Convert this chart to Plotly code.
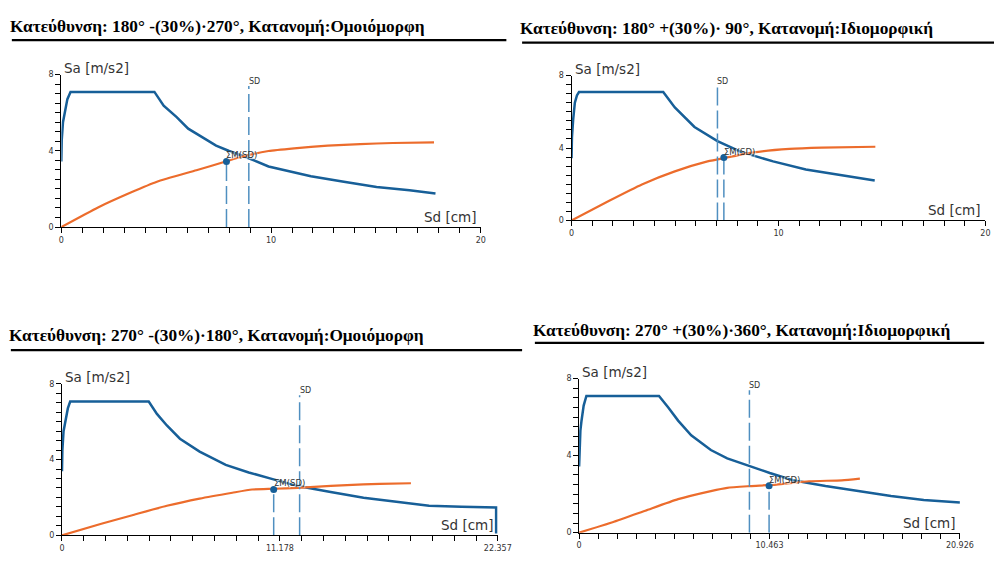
import plotly.graph_objects as go

# ---------------- data ----------------
titles = [
    "Κατεύθυνση: 180° -(30%)·270°, Κατανομή:Ομοιόμορφη",
    "Κατεύθυνση: 180° +(30%)· 90°, Κατανομή:Ιδιομορφική",
    "Κατεύθυνση: 270° -(30%)·180°, Κατανομή:Ομοιόμορφη",
    "Κατεύθυνση: 270° +(30%)·360°, Κατανομή:Ιδιομορφική",
]

# panel 1
p1_dem_sd = [0, 0.02, 0.08, 0.17, 0.29, 0.44, 4.44, 4.88, 5.5, 6.05, 6.75, 7.38, 8.0, 8.94, 9.88, 10.8, 11.9, 13.47, 15.03, 16.6, 17.84]
p1_dem_sa = [3.44, 4.56, 5.5, 6.02, 6.71, 7.09, 7.09, 6.37, 5.77, 5.16, 4.68, 4.27, 3.99, 3.61, 3.18, 2.93, 2.67, 2.38, 2.10, 1.93, 1.76]
p1_cap_sd = [0, 1.75, 3.31, 4.56, 6.44, 7.84, 8.63, 9.88, 11.1, 12.7, 14.25, 15.8, 17.77]
p1_cap_sa = [0, 1.03, 1.81, 2.38, 2.98, 3.44, 3.70, 3.99, 4.13, 4.27, 4.35, 4.41, 4.44]
p1_sd = 8.94
p1_pt = (7.875, 3.44)
p1_xticks = ["0", "10", "20"]

# panel 2
p2_dem_sd = [0, 0.02, 0.08, 0.16, 0.26, 0.36, 4.43, 4.99, 5.94, 7.05, 8.16, 9.74, 11.32, 12.9, 14.65]
p2_dem_sa = [3.44, 4.6, 5.6, 6.5, 6.9, 7.09, 7.09, 6.24, 5.16, 4.38, 3.80, 3.26, 2.81, 2.53, 2.21]
p2_cap_sd = [0, 1.82, 3.4, 4.99, 6.57, 7.52, 8.79, 10.53, 12.1, 14.68]
p2_cap_sa = [0, 1.09, 1.99, 2.71, 3.26, 3.48, 3.76, 3.95, 4.02, 4.07]
p2_sd = 7.05
p2_pt = (7.36, 3.47)
p2_xticks = ["0", "10", "20"]

# panel 3
p3_dem_sd = [0, 0.02, 0.08, 0.17, 0.3, 0.42, 4.45, 4.87, 5.38, 6.05, 7.06, 8.4, 9.58, 10.76, 12.1, 13.78, 15.47, 17.15, 18.83, 20.5, 22.27, 22.27]
p3_dem_sa = [3.38, 4.5, 5.5, 6.06, 6.7, 7.06, 7.06, 6.41, 5.8, 5.1, 4.42, 3.72, 3.32, 2.98, 2.6, 2.29, 1.99, 1.77, 1.56, 1.51, 1.47, 0.1]
p3_cap_sd = [0, 2.02, 3.7, 5.38, 7.06, 8.74, 9.75, 10.86, 12.1, 12.94, 14.62, 16.3, 17.9]
p3_cap_sa = [0, 0.61, 1.09, 1.56, 1.94, 2.25, 2.42, 2.46, 2.51, 2.56, 2.65, 2.72, 2.75]
p3_sd = 12.19
p3_pt = (10.86, 2.42)
p3_xticks = ["0", "11.178", "22.357"]

# panel 4
p4_dem_sd = [0, 0.02, 0.07, 0.13, 0.25, 0.4, 4.39, 4.9, 5.44, 6.16, 7.24, 8.14, 9.4, 10.48, 11.74, 13.54, 15.34, 17.14, 18.94, 20.93]
p4_dem_sa = [3.44, 4.6, 5.3, 5.8, 6.6, 7.1, 7.1, 6.5, 5.82, 5.06, 4.29, 3.86, 3.44, 3.10, 2.72, 2.42, 2.16, 1.91, 1.70, 1.57]
p4_cap_sd = [0, 1.84, 3.64, 5.44, 7.24, 8.14, 9.4, 10.84, 12.64, 14.44, 15.43]
p4_cap_sa = [0, 0.54, 1.14, 1.74, 2.16, 2.33, 2.42, 2.5, 2.67, 2.72, 2.81]
p4_sd = 9.36
p4_pt = (10.44, 2.44)
p4_xticks = ["0", "10.463", "20.926"]

y_max = 8
y_ticks = ["0", "4", "8"]
sd_line_top = 7.4

# ---------------- layout geometry (pixels) ----------------
W, H = 1008, 561
panels = [
    dict(dem=(p1_dem_sd, p1_dem_sa), cap=(p1_cap_sd, p1_cap_sa), sd=p1_sd, pt=p1_pt, xt=p1_xticks,
         px=(59.3, 486), py=(71.7, 226.7)),
    dict(dem=(p2_dem_sd, p2_dem_sa), cap=(p2_cap_sd, p2_cap_sa), sd=p2_sd, pt=p2_pt, xt=p2_xticks,
         px=(578.3, 999.3), py=(72.7, 220)),
    dict(dem=(p3_dem_sd, p3_dem_sa), cap=(p3_cap_sd, p3_cap_sa), sd=p3_sd, pt=p3_pt, xt=p3_xticks,
         px=(60, 503.3), py=(386, 540)),
    dict(dem=(p4_dem_sd, p4_dem_sa), cap=(p4_cap_sd, p4_cap_sa), sd=p4_sd, pt=p4_pt, xt=p4_xticks,
         px=(586, 973.3), py=(380.7, 537.3)),
]
title_pos = [(5, 22.5), (524, 24.5), (4, 336.5), (537, 332)]
rules = [(9, 512, 36.7), (528, 1008, 39.3), (8, 528, 351.7), (541, 998, 344.3)]

BLUE = "#175f98"
ORANGE = "#ec6c2c"
DASH = "#4f8fc0"
TXT = "#333333"
FONT = "DejaVu Sans"

def fy(p):
    return 1 - p / H

fig = go.Figure()
layout = dict(width=W, height=H, autosize=False, margin=dict(l=0, r=0, t=0, b=0),
              paper_bgcolor="white", plot_bgcolor="white", showlegend=False)
annotations = []
shapes = []

# y ticks every 0.5, labels at 0 / 4 / 8
y_tickvals = [k * 0.5 for k in range(17)]
y_ticktext = [(y_ticks[k // 8] if k % 8 == 0 else "") for k in range(17)]

for i, p in enumerate(panels):
    n = "" if i == 0 else str(i + 1)
    xr, yr = "x" + n, "y" + n
    xmax = float(p["xt"][-1])
    fig.add_trace(go.Scatter(x=p["dem"][0], y=p["dem"][1], mode="lines", xaxis=xr, yaxis=yr,
                             line=dict(color=BLUE, width=2.5), hoverinfo="skip"))
    fig.add_trace(go.Scatter(x=p["cap"][0], y=p["cap"][1], mode="lines", xaxis=xr, yaxis=yr,
                             line=dict(color=ORANGE, width=2.2, shape="spline", smoothing=0.5),
                             hoverinfo="skip"))
    fig.add_trace(go.Scatter(x=[p["sd"], p["sd"]], y=[0, sd_line_top], mode="lines", xaxis=xr, yaxis=yr,
                             line=dict(color=DASH, width=1.5, dash="18px,5px"), hoverinfo="skip"))
    fig.add_trace(go.Scatter(x=[p["pt"][0], p["pt"][0]], y=[0, p["pt"][1]], mode="lines", xaxis=xr, yaxis=yr,
                             line=dict(color=DASH, width=1.5, dash="18px,5px"), hoverinfo="skip"))
    fig.add_trace(go.Scatter(x=[p["pt"][0]], y=[p["pt"][1]], mode="markers", xaxis=xr, yaxis=yr,
                             marker=dict(color=BLUE, size=7), hoverinfo="skip"))

    # x ticks every 1/20 of the range, labels at 0 / half / max
    x_tickvals = [k * xmax / 20 for k in range(21)]
    x_ticktext = [(p["xt"][k // 10] if k % 10 == 0 else "") for k in range(21)]
    layout["xaxis" + n] = dict(
        domain=[p["px"][0] / W, p["px"][1] / W], anchor=yr, range=[0, xmax],
        showgrid=False, zeroline=False, showline=True, linecolor="black", linewidth=1,
        ticks="outside", ticklen=5, tickcolor="black", tickwidth=1,
        tickmode="array", tickvals=x_tickvals, ticktext=x_ticktext,
        tickfont=dict(family=FONT, size=8, color=TXT), fixedrange=True,
    )
    layout["yaxis" + n] = dict(
        domain=[fy(p["py"][1]), fy(p["py"][0])], anchor=xr, range=[0, y_max],
        showgrid=False, zeroline=False, showline=True, linecolor="black", linewidth=1,
        ticks="outside", ticklen=5, tickcolor="black", tickwidth=1,
        tickmode="array", tickvals=y_tickvals, ticktext=y_ticktext,
        tickfont=dict(family=FONT, size=8, color=TXT), fixedrange=True,
    )
    annotations.append(dict(text="Sa [m/s2]", xref=xr + " domain", yref=yr + " domain", x=0, y=1,
                            xanchor="left", yanchor="bottom", showarrow=False, xshift=1, yshift=-3,
                            font=dict(family=FONT, size=13.5, color=TXT)))
    annotations.append(dict(text="Sd [cm]", xref=xr + " domain", yref=yr + " domain", x=1, y=0,
                            xanchor="right", yanchor="bottom", showarrow=False, xshift=-2, yshift=0,
                            font=dict(family=FONT, size=13.5, color=TXT)))
    annotations.append(dict(text="SD", xref=xr, yref=yr, x=p["sd"], y=sd_line_top,
                            xanchor="left", yanchor="bottom", showarrow=False, xshift=-2, yshift=-2,
                            font=dict(family=FONT, size=8, color=TXT)))
    annotations.append(dict(text="ΣΜ(SD)", xref=xr, yref=yr, x=p["pt"][0], y=p["pt"][1],
                            xanchor="left", yanchor="bottom", showarrow=False, xshift=-2, yshift=-1,
                            font=dict(family=FONT, size=8.5, color=TXT, shadow="1px 1px 1px white")))

for (tx, ty), t in zip(title_pos, titles):
    annotations.append(dict(text="<b>" + t + "</b>", xref="paper", yref="paper", x=tx / W, y=fy(ty),
                            xanchor="left", yanchor="middle", showarrow=False,
                            font=dict(family="Liberation Serif", size=17.3, color="black")))
for x0, x1, y in rules:
    shapes.append(dict(type="line", xref="paper", yref="paper", x0=x0 / W, x1=x1 / W, y0=fy(y), y1=fy(y),
                       line=dict(color="black", width=2.2)))

layout["annotations"] = annotations
layout["shapes"] = shapes
fig.update_layout(**layout)
fig.write_html("out.html")
